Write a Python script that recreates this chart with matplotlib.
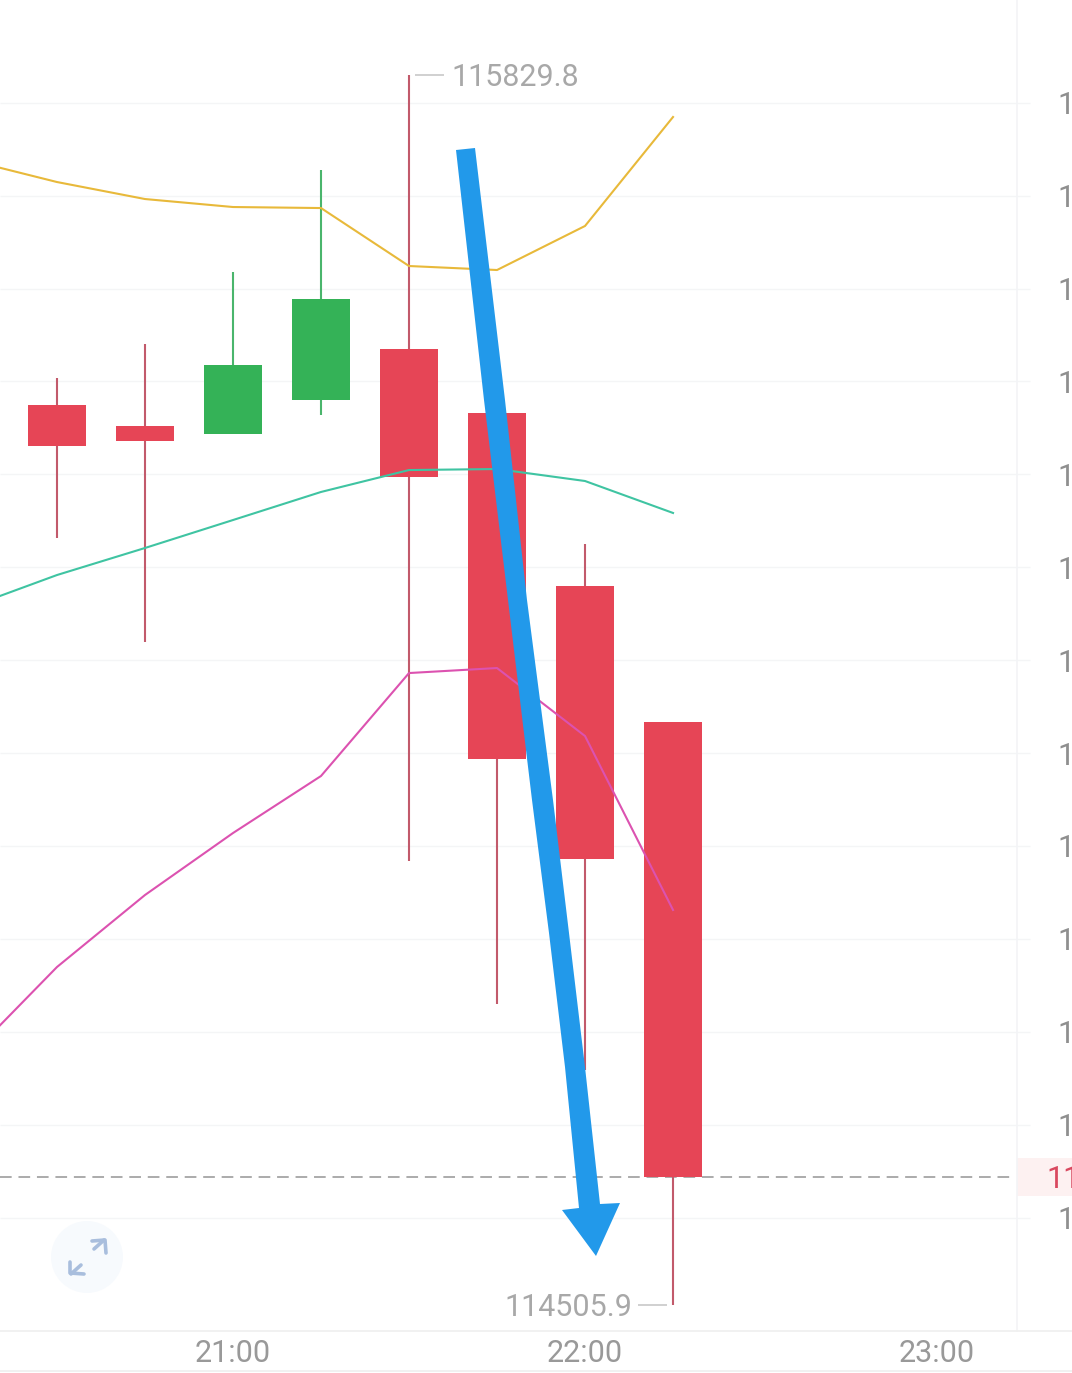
from __future__ import annotations

import matplotlib.pyplot as plt
from matplotlib.patches import Circle, Polygon, Rectangle
from matplotlib.transforms import blended_transform_factory

plt.rcParams["font.family"] = ["Roboto", "DejaVu Sans"]

# minutes since midnight
times = [1230, 1245, 1260, 1275, 1290, 1305, 1320, 1335]
opens = [115474.6, 115452.0, 115443.4, 115480.0, 115534.9, 115466.0, 115279.8, 115133.4]
closes = [115430.5, 115435.9, 115517.7, 115588.7, 115397.1, 115093.6, 114985.9, 114643.7]
highs = [115503.7, 115540.3, 115617.8, 115727.5, 115829.8, 115466.0, 115325.0, 115133.4]
lows = [115331.5, 115219.5, 115443.4, 115463.8, 114983.8, 114829.9, 114758.8, 114505.9]

band_times = [1215, 1230, 1245, 1260, 1275, 1290, 1305, 1320, 1335]
upper = [115738.3, 115714.6, 115696.3, 115687.7, 115686.6, 115624.2, 115619.9, 115667.3, 115784.6]
middle = [115256.8, 115291.6, 115320.7, 115350.8, 115381.0, 115404.6, 115405.7, 115392.8, 115358.4]
lower = [114772.8, 114869.7, 114947.2, 115013.9, 115075.3, 115186.1, 115191.5, 115118.3, 114931.1]

grid_prices = [115800 - 100 * i for i in range(13)]
time_ticks = [1260, 1320, 1380]
time_labels = ["21:00", "22:00", "23:00"]
last_price = 114643.7

W, H = 1072, 1373
RED = "#E64556"
GREEN = "#34B257"
RED_WICK = "#C25A6B"
GREEN_WICK = "#4AB56C"
LABEL = "#A8A8A8"
FONT = 22.0


def main() -> None:
    fig = plt.figure(figsize=(W / 100, H / 100), dpi=100, facecolor="white")
    ax = fig.add_axes([0, 0, 1, 1])
    ax.set_xlim(1260 - 233 / 5.867, 1260 + (W - 233) / 5.867)
    ax.set_ylim(115829.8 - 1298 * 1.07634, 115829.8 + 75 * 1.07634)
    ax.axis("off")
    x_frac = ax.get_yaxis_transform()  # x in axes fraction, y in price
    y_frac = blended_transform_factory(ax.transData, ax.transAxes)

    ax.hlines(grid_prices, 0, 1030 / W, transform=x_frac, color="#F4F5F6", lw=1, zorder=1)
    ax.axhline(last_price, xmax=1015 / W, color="#ABABAB", lw=1.4, dashes=(6, 3.5), zorder=1)

    for t, o, c, hi, lo in zip(times, opens, closes, highs, lows):
        up = c > o
        ax.vlines(t, lo, hi, color=GREEN_WICK if up else RED_WICK, lw=1.5, zorder=2)
        ax.add_patch(Rectangle((t - 5, min(o, c)), 10, abs(c - o),
                               facecolor=GREEN if up else RED, edgecolor="none", zorder=3))

    ax.plot(band_times, upper, color="#E8B93A", lw=1.5, zorder=4)
    ax.plot(band_times, middle, color="#3FC4A2", lw=1.5, zorder=4)
    ax.plot(band_times, lower, color="#DC52B0", lw=1.5, zorder=4)

    # high / low callouts
    hi_t = times[highs.index(max(highs))]
    lo_t = times[lows.index(min(lows))]
    ax.hlines(max(highs), hi_t + 1, hi_t + 6, color="#C8C8C8", lw=1.2)
    ax.text(hi_t + 7.2, max(highs) + 1, f"{max(highs):.1f}", color=LABEL, fontsize=FONT,
            ha="left", va="center_baseline")
    ax.hlines(min(lows), lo_t - 6, lo_t - 1, color="#C8C8C8", lw=1.2)
    ax.text(lo_t - 7.0, min(lows) + 1, f"{min(lows):.1f}", color=LABEL, fontsize=FONT,
            ha="right", va="center_baseline")

    for t, label in zip(time_ticks, time_labels):
        ax.text(t, 22.5 / H, label, transform=y_frac, color="#999999", fontsize=FONT,
                ha="center", va="center_baseline")

    # only the first digit of the price scale is on screen
    for price in grid_prices:
        ax.text(1057 / W, price, "1", transform=x_frac, color="#8F8F8F",
                fontsize=FONT, ha="left", va="center_baseline")
    ax.add_patch(Rectangle((1017 / W, last_price - 20), 55 / W, 40, transform=x_frac,
                           facecolor="#FDF1F1", edgecolor="none", zorder=1))
    ax.text(1046 / W, last_price, "11", transform=x_frac, color="#D9485F",
            fontsize=FONT, ha="left", va="center_baseline", zorder=2)

    # overlay in screen pixels: frame lines, expand button, hand drawn arrow
    top = fig.add_axes([0, 0, 1, 1], facecolor="none")
    top.set_xlim(0, W)
    top.set_ylim(H, 0)
    top.axis("off")
    top.plot([1017, 1017], [0, 1331], color="#F3F4F6", lw=1.2)
    top.plot([0, W], [1331, 1331], color="#EFEFEF", lw=1.2)
    top.plot([0, W], [1371, 1371], color="#EFEFEF", lw=1.2)

    top.add_patch(Circle((87, 1257), 36, facecolor="#F7FAFD", edgecolor="none"))
    for shaft, head in [
        ([(94, 1249), (104, 1240)], [(92, 1241), (105, 1240), (106, 1253)]),
        ([(81, 1265), (71, 1274)], [(70, 1262), (70, 1273), (84, 1274)]),
    ]:
        top.plot(*zip(*shaft), color="#A9BEDD", lw=2.6, solid_capstyle="round")
        top.plot(*zip(*head), color="#A9BEDD", lw=2.6, solid_capstyle="round")

    top.add_patch(Polygon(
        [(456, 150), (484, 400), (508, 600), (532, 800), (549, 933), (565, 1067), (579, 1208),
         (562, 1210), (596, 1256), (620, 1203), (600, 1204),
         (585, 1067), (569, 933), (553, 800), (527, 600), (505, 400), (475, 148)],
        closed=True, facecolor="#2299EA", edgecolor="none", zorder=5))

    fig.savefig("out.png", dpi=100)


if __name__ == "__main__":
    main()
